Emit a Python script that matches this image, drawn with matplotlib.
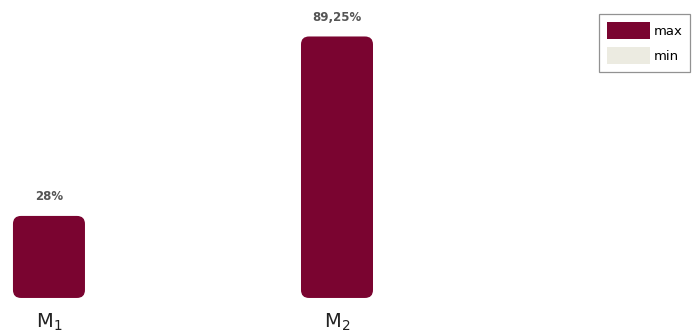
import matplotlib
matplotlib.use("Agg")
import matplotlib.pyplot as plt
from matplotlib.patches import FancyBboxPatch, Patch

models = ["$\\mathregular{M_1}$", "$\\mathregular{M_2}$"]
max_vals = [28, 89.25]
value_labels = ["28%", "89,25%"]
series = ["max", "min"]

bar_color = "#7a0430"
min_color = "#ecebe1"

fig = plt.figure(figsize=(6.93, 3.34), dpi=100)
ax = fig.add_axes([0, 0, 1, 1])
ax.set_xlim(-0.170, 2.236)
ax.set_ylim(-12.3, 101.7)
ax.axis("off")

xs = list(range(len(models)))
bars = ax.bar(xs, max_vals, width=0.25, color=bar_color)

# swap plain rectangles for rounded ones of the same geometry
px_x = fig.get_figwidth() * fig.dpi / (ax.get_xlim()[1] - ax.get_xlim()[0])
px_y = fig.get_figheight() * fig.dpi / (ax.get_ylim()[1] - ax.get_ylim()[0])
for b in bars:
    x0, y0, w, h = b.get_x(), b.get_y(), b.get_width(), b.get_height()
    b.remove()
    ax.add_patch(FancyBboxPatch((x0, y0), w, h,
                                boxstyle="round,pad=0,rounding_size=%f" % (8 / px_x),
                                mutation_aspect=px_x / px_y,
                                facecolor=bar_color, edgecolor="none"))

for x, v, lbl in zip(xs, max_vals, value_labels):
    ax.text(x, v + 4.3, lbl, ha="center", va="bottom", fontsize=8.5,
            color="#555555", fontweight="bold")

for x, name in zip(xs, models):
    ax.text(x, -8.4, name, ha="center", va="center", fontsize=14, color="#222222")

handles = [Patch(facecolor=bar_color, label=series[0]),
           Patch(facecolor=min_color, label=series[1])]
leg = ax.legend(handles=handles, loc="upper right", bbox_to_anchor=(0.998, 0.963),
                fontsize=9.5, fancybox=False, edgecolor="#777777",
                handlelength=3.3, handleheight=1.7, handletextpad=0.25,
                labelspacing=0.55, borderpad=0.6, borderaxespad=0.1)
leg.get_frame().set_linewidth(0.9)

fig.savefig("out.png", dpi=100)
